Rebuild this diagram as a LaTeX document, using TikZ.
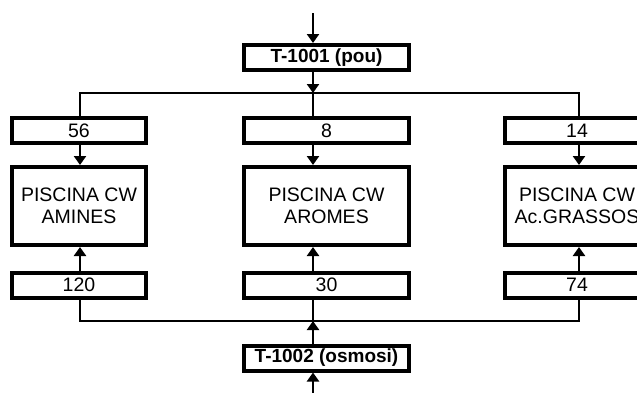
\documentclass[tikz,border=0pt]{standalone}
\usepackage{fontspec}
\setmainfont{Liberation Sans}
\usetikzlibrary{arrows.meta}
\begin{document}
\begin{tikzpicture}[x=1pt,y=-1pt,
  box/.style={draw, line width=4pt, outer sep=2pt, inner sep=0pt, align=center,
    font=\fontsize{19.5}{21.5}\selectfont},
  tbox/.style={box, minimum width=165pt, minimum height=25pt,
    font=\fontsize{19}{21}\selectfont\bfseries},
  nbox/.style={box, minimum height=25pt},
  pbox/.style={box, minimum height=78pt},
  arr/.style={line width=2.8pt, -{Triangle[length=9pt,width=12pt]}},
  thinl/.style={line width=1.3pt}]
\useasboundingbox (0,0) rectangle (637,392);
\clip (0,0) rectangle (637,392);
% boxes
\node[tbox] (t1) at (326.5,57.5) {T-1001 (pou)};
\node[nbox, minimum width=134pt] (n56) at (79,130.5) {56};
\node[nbox, minimum width=165pt] (n8) at (326.5,130.5) {8};
\node[nbox, minimum width=144pt] (n14) at (577,130.5) {14};
\node[pbox, minimum width=134pt] (p1) at (79,206) {PISCINA CW\\AMINES};
\node[pbox, minimum width=165pt] (p2) at (326.5,206) {PISCINA CW\\AROMES};
\node[pbox, minimum width=144pt] (p3) at (577,206) {PISCINA CW\\Ac.GRASSOS};
\node[nbox, minimum width=134pt] (n120) at (79,285) {120};
\node[nbox, minimum width=165pt] (n30) at (326.5,285) {30};
\node[nbox, minimum width=144pt] (n74) at (577,285) {74};
\node[tbox] (t2) at (326.5,358) {T-1002 (osmosi)};
% junctions
\coordinate (in) at (313,13);
\coordinate (out) at (313,400);
\coordinate (jt) at (313,93);
\coordinate (jtl) at (80,93);
\coordinate (jtr) at (579,93);
\coordinate (jb) at (313,321);
\coordinate (jbl) at (80,321);
\coordinate (jbr) at (579,321);
% connectors
\draw[arr] (in) -- (t1.north -| in);
\draw[arr] (t1.south -| jt) -- (jt);
\draw[thinl] (n56.north -| jtl) -- (jtl) -- (jtr) -- (n14.north -| jtr);
\draw[thinl] (jt) -- (n8.north -| jt);
\draw[arr] (n56.south -| jtl) -- (p1.north -| jtl);
\draw[arr] (n8.south -| jt) -- (p2.north -| jt);
\draw[arr] (n14.south -| jtr) -- (p3.north -| jtr);
\draw[arr] (n120.north -| jbl) -- (p1.south -| jbl);
\draw[arr] (n30.north -| jb) -- (p2.south -| jb);
\draw[arr] (n74.north -| jbr) -- (p3.south -| jbr);
\draw[thinl] (n120.south -| jbl) -- (jbl) -- (jbr) -- (n74.south -| jbr);
\draw[thinl] (n30.south -| jb) -- (jb);
\draw[arr] (t2.north -| jb) -- (jb);
\draw[arr] (out) -- (t2.south -| out);
\end{tikzpicture}
\end{document}
